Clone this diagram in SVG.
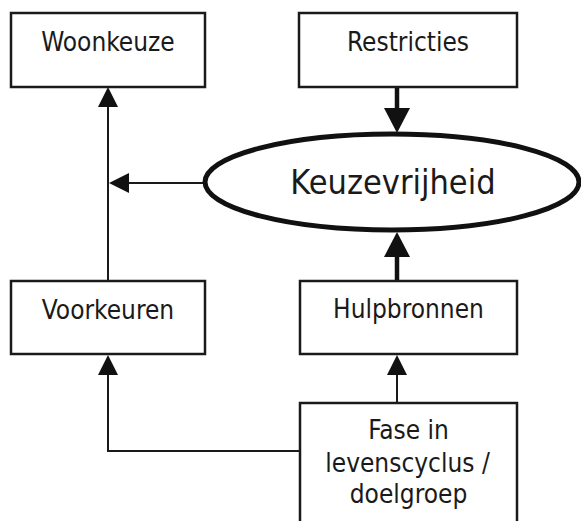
<svg xmlns="http://www.w3.org/2000/svg" width="581" height="521" viewBox="0 0 581 521">
<style>
.box{fill:#fff;stroke:#1a1a1a;stroke-width:2.5}
.ell{fill:#fff;stroke:#111;stroke-width:5}
.t{font-family:"DejaVu Sans Condensed","DejaVu Sans",sans-serif;font-stretch:condensed;font-size:26px;fill:#1a1a1a;text-anchor:middle}
.big{font-size:34px}
.thin{fill:none;stroke:#1a1a1a;stroke-width:2}
.thick{fill:none;stroke:#111;stroke-width:4.5}
</style>
<defs>
<marker id="ah" markerUnits="userSpaceOnUse" markerWidth="20" markerHeight="20" refX="5" refY="10" orient="auto" viewBox="0 0 20 20">
<path d="M0,0 L20,10 L0,20 z" fill="#111"/>
</marker>
<marker id="ahb" markerUnits="userSpaceOnUse" markerWidth="25" markerHeight="26" refX="5" refY="13" orient="auto" viewBox="0 0 25 26">
<path d="M0,0 L25,13 L0,26 z" fill="#111"/>
</marker>
</defs>
<rect width="581" height="521" fill="#fff"/>
<g id="connectors">
<path class="thin" d="M108,281 V102" marker-end="url(#ah)"/>
<path class="thin" d="M205,183 H124" marker-end="url(#ah)"/>
<path class="thick" d="M397,87 V113" marker-end="url(#ahb)"/>
<path class="thick" d="M397,281 V252" marker-end="url(#ahb)"/>
<path class="thin" d="M397,403 V370" marker-end="url(#ah)"/>
<path class="thin" d="M300,451 H108 V370" marker-end="url(#ah)"/>
</g>
<g id="woonkeuze">
<rect class="box" x="11" y="13" width="194" height="74"/>
<text class="t" x="108" y="51">Woonkeuze</text>
</g>
<g id="restricties">
<rect class="box" x="299" y="13" width="218" height="74"/>
<text class="t" x="408" y="51">Restricties</text>
</g>
<g id="keuzevrijheid">
<ellipse class="ell" cx="392" cy="182" rx="187" ry="48"/>
<text class="t big" x="393" y="194">Keuzevrijheid</text>
</g>
<g id="voorkeuren">
<rect class="box" x="11" y="281" width="194" height="73"/>
<text class="t" x="108" y="319">Voorkeuren</text>
</g>
<g id="hulpbronnen">
<rect class="box" x="300" y="281" width="217" height="73"/>
<text class="t" x="408.5" y="318">Hulpbronnen</text>
</g>
<g id="fase">
<rect class="box" x="300" y="403" width="217" height="125"/>
<text class="t" x="408.5" y="439">Fase in</text>
<text class="t" x="407.5" y="472">levenscyclus /</text>
<text class="t" x="408.5" y="503">doelgroep</text>
</g>
</svg>
